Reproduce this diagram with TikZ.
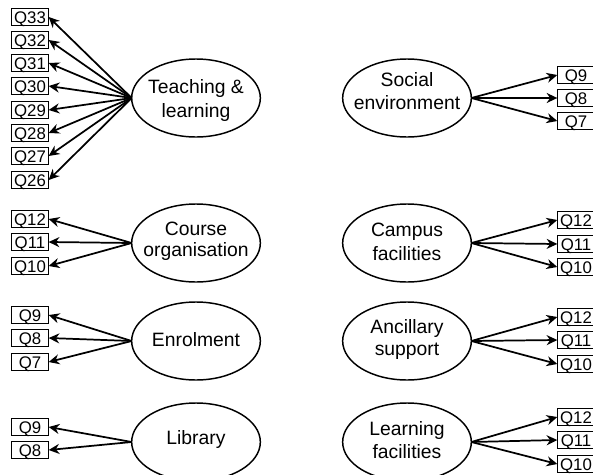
\documentclass[tikz,border=0pt]{standalone}
\usepackage{fontspec}
\setmainfont{Liberation Sans}
\usetikzlibrary{shapes.geometric,arrows.meta}

\begin{document}
\begin{tikzpicture}[x=0.75pt, y=-0.75pt, outer sep=0pt]

\tikzstyle{qbox}=[draw, rectangle, line width=0.75pt, inner sep=0pt, minimum height=12.8pt, minimum width=28pt, text height=10pt, text depth=0pt, font=\fontsize{12.6}{14}\selectfont]
\tikzstyle{factor}=[draw, ellipse, line width=1.1pt, inner sep=0pt, minimum width=96.5pt, minimum height=58.5pt]
\tikzstyle{lbl}=[inner sep=0pt, font=\fontsize{14.5}{17}\selectfont]
\tikzstyle{load}=[-{Stealth[length=8pt, width=7.5pt]}, line width=1.3pt]

\useasboundingbox (0,0) rectangle (593,475);

% factors
\node[factor, label={[lbl, yshift=7.5pt]center:Teaching \&}, label={[lbl, yshift=-10.5pt]center:learning}] (tl) at (196,98) {};
\node[factor, label={[lbl, yshift=10.5pt]center:Course}, label={[lbl, yshift=-6pt]center:organisation}] (co) at (196,243) {};
\node[factor, label={[lbl, yshift=0.75pt]center:Enrolment}] (en) at (196,341) {};
\node[factor, label={[lbl, yshift=2.25pt]center:Library}] (li) at (196,442) {};
\node[factor, label={[lbl, yshift=13.5pt]center:Social}, label={[lbl, yshift=-3.75pt]center:environment}] (se) at (407,98) {};
\node[factor, label={[lbl, yshift=8.25pt]center:Campus}, label={[lbl, yshift=-8.25pt]center:facilities}] (cf) at (407,243) {};
\node[factor, label={[lbl, yshift=9.75pt]center:Ancillary}, label={[lbl, yshift=-7.5pt]center:support}] (as) at (407,341) {};
\node[factor, label={[lbl, yshift=9pt]center:Learning}, label={[lbl, yshift=-7.5pt]center:facilities}] (lf) at (407,442) {};

% items, left column
\node[qbox] (tl33) at (30,17) {Q33}; \node[qbox] (tl32) at (30,40) {Q32}; \node[qbox] (tl31) at (30,63) {Q31}; \node[qbox] (tl30) at (30,86) {Q30};
\node[qbox] (tl29) at (30,110) {Q29}; \node[qbox] (tl28) at (30,133) {Q28}; \node[qbox] (tl27) at (30,156) {Q27}; \node[qbox] (tl26) at (30,180) {Q26};
\node[qbox] (co12) at (30,219) {Q12}; \node[qbox] (co11) at (30,242) {Q11}; \node[qbox] (co10) at (30,266) {Q10};
\node[qbox] (en9) at (30,315) {Q9}; \node[qbox] (en8) at (30,338) {Q8}; \node[qbox] (en7) at (30,362) {Q7};
\node[qbox] (li9) at (30,427) {Q9}; \node[qbox] (li8) at (30,450) {Q8};

% items, right column
\node[qbox] (se9) at (576,75) {Q9}; \node[qbox] (se8) at (576,98) {Q8}; \node[qbox] (se7) at (576,121) {Q7};
\node[qbox] (cf12) at (576,220) {Q12}; \node[qbox] (cf11) at (576,244) {Q11}; \node[qbox] (cf10) at (576,267) {Q10};
\node[qbox] (as12) at (576,317) {Q12}; \node[qbox] (as11) at (576,340) {Q11}; \node[qbox] (as10) at (576,364) {Q10};
\node[qbox] (lf12) at (576,417) {Q12}; \node[qbox] (lf11) at (576,440) {Q11}; \node[qbox] (lf10) at (576,464) {Q10};

% loadings
\draw[load] (tl.west) -- (tl33.east); \draw[load] (tl.west) -- (tl32.east); \draw[load] (tl.west) -- (tl31.east); \draw[load] (tl.west) -- (tl30.east);
\draw[load] (tl.west) -- (tl29.east); \draw[load] (tl.west) -- (tl28.east); \draw[load] (tl.west) -- (tl27.east); \draw[load] (tl.west) -- (tl26.east);
\draw[load] (co.west) -- (co12.east); \draw[load] (co.west) -- (co11.east); \draw[load] (co.west) -- (co10.east);
\draw[load] (en.west) -- (en9.east); \draw[load] (en.west) -- (en8.east); \draw[load] (en.west) -- (en7.east);
\draw[load] (li.west) -- (li9.east); \draw[load] (li.west) -- (li8.east);
\draw[load] (se.east) -- (se9.west); \draw[load] (se.east) -- (se8.west); \draw[load] (se.east) -- (se7.west);
\draw[load] (cf.east) -- (cf12.west); \draw[load] (cf.east) -- (cf11.west); \draw[load] (cf.east) -- (cf10.west);
\draw[load] (as.east) -- (as12.west); \draw[load] (as.east) -- (as11.west); \draw[load] (as.east) -- (as10.west);
\draw[load] (lf.east) -- (lf12.west); \draw[load] (lf.east) -- (lf11.west); \draw[load] (lf.east) -- (lf10.west);

\end{tikzpicture}
\end{document}
